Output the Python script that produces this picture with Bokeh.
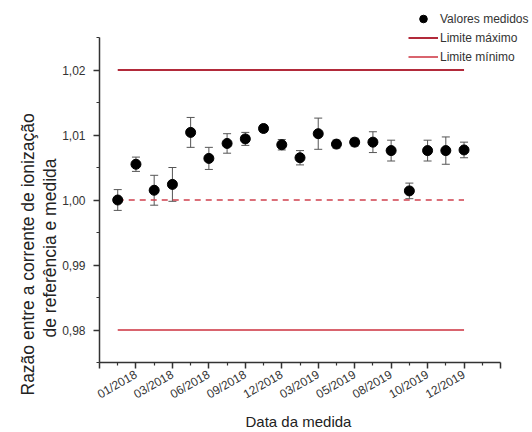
import math
from bokeh.plotting import figure
from bokeh.models import (ColumnDataSource, Whisker, TeeHead, FixedTicker, Title,
                          CustomJSTickFormatter, Legend, LegendItem, Range1d)
from bokeh.embed import file_html
from bokeh.resources import INLINE

# ---- data ----
measure_index = list(range(1, 21))
ratio = [1.0000, 1.0055, 1.0015, 1.0024, 1.0104, 1.0064, 1.0087, 1.0094, 1.0110, 1.0085,
         1.0065, 1.0102, 1.0086, 1.0089, 1.0089, 1.0076, 1.0014, 1.0076, 1.0076, 1.0077]
ratio_err = [0.0016, 0.0011, 0.0023, 0.0026, 0.0023, 0.0017, 0.0015, 0.0010, 0.0005, 0.0008,
             0.0011, 0.0024, 0.0006, 0.0006, 0.0016, 0.0016, 0.0012, 0.0016, 0.0021, 0.0012]
tick_positions = [0, 2, 4, 6, 8, 10, 12, 14, 16, 18, 20, 22]
tick_labels = ["", "01/2018", "03/2018", "06/2018", "09/2018", "12/2018", "03/2019",
               "05/2019", "08/2019", "10/2019", "12/2019", ""]
y_ticks = [0.98, 0.99, 1.00, 1.01, 1.02]
y_minor = [0.975, 0.985, 0.995, 1.005, 1.015, 1.025]
limit_max = 1.02
limit_min = 0.98
nominal = 1.00

FONT = "Liberation Sans"
TXT = "#333333"

src = ColumnDataSource(dict(
    x=measure_index, y=ratio,
    upper=[v + e for v, e in zip(ratio, ratio_err)],
    lower=[v - e for v, e in zip(ratio, ratio_err)],
))

# frame extended above/right so the legend can sit there; axes limited by bounds
p = figure(frame_width=431, frame_height=357, output_backend="svg", toolbar_location=None,
           min_border_left=99, min_border_top=5, min_border_right=0, min_border_bottom=68,
           x_range=Range1d(0, 22 * 431 / 401), y_range=Range1d(0.975, 0.975 + 357 / 6500))
p.grid.visible = False
p.outline_line_color = None
p.background_fill_color = "white"
p.border_fill_color = "white"

x_span = [measure_index[0], measure_index[-1]]
r_max = p.line(x_span, [limit_max] * 2, line_color="#b22a3a", line_width=2)
r_min = p.line(x_span, [limit_min] * 2, line_color="#d9646e", line_width=2)
p.line(x_span, [nominal] * 2, line_color="#d0404e", line_width=1.5, line_dash="6 5")

wh = Whisker(source=src, base="x", upper="upper", lower="lower",
             line_color="#555555", line_width=1,
             upper_head=TeeHead(size=8, line_color="#555555", line_width=1),
             lower_head=TeeHead(size=8, line_color="#555555", line_width=1))
p.add_layout(wh)
r_pts = p.scatter("x", "y", source=src, size=10, fill_color="black", line_color="black")

# axes
xa = p.xaxis[0]
xa.ticker = FixedTicker(ticks=tick_positions, minor_ticks=[t + 1 for t in tick_positions[:-1]])
xa.major_label_overrides = {t: l for t, l in zip(tick_positions, tick_labels)}
xa.major_label_orientation = math.pi / 6
xa.bounds = (tick_positions[0], tick_positions[-1])
ya = p.yaxis[0]
ya.ticker = FixedTicker(ticks=y_ticks, minor_ticks=y_minor)
ya.formatter = CustomJSTickFormatter(code="return tick.toFixed(2).replace('.', ',');")
ya.bounds = (y_minor[0], y_minor[-1])

for ax in (xa, ya):
    ax.axis_line_color = TXT
    ax.axis_line_width = 1.5
    ax.major_tick_line_color = TXT
    ax.minor_tick_line_color = TXT
    ax.major_tick_line_width = 1.5
    ax.minor_tick_line_width = 1.2
    ax.major_tick_in = 0
    ax.major_tick_out = 6
    ax.minor_tick_in = 0
    ax.minor_tick_out = 3
    ax.major_label_text_font = FONT
    ax.major_label_text_font_size = "12px"
    ax.major_label_text_color = TXT
ya.major_label_standoff = 8

# axis titles as side titles so they can be offset like in the reference
def side_title(text, size, align, offset, standoff):
    return Title(text=text, align=align, offset=offset, standoff=standoff,
                 text_font=FONT, text_font_size=size, text_font_style="normal",
                 text_color="#222222")

p.add_layout(side_title("de referência e  medida", "17.5px", "left", 25, 0), "left")
p.add_layout(side_title("Razão entre a corrente de ionização", "17.5px", "left", -33, 0), "left")
p.add_layout(side_title("Data da medida", "15px", "left", 146, 0), "below")

legend = Legend(items=[
    LegendItem(label="Valores medidos", renderers=[r_pts]),
    LegendItem(label="Limite máximo", renderers=[r_max]),
    LegendItem(label="Limite mínimo", renderers=[r_min]),
], location=(309, 296))
legend.label_text_font = FONT
legend.label_text_font_size = "12px"
legend.label_text_color = TXT
legend.glyph_width = 30
legend.glyph_height = 19
legend.label_height = 19
legend.label_standoff = 2
legend.spacing = 0
legend.padding = 0
legend.margin = 0
legend.border_line_alpha = 0
legend.background_fill_alpha = 0
p.add_layout(legend, "center")

open("out.html", "w").write(file_html(p, INLINE))
